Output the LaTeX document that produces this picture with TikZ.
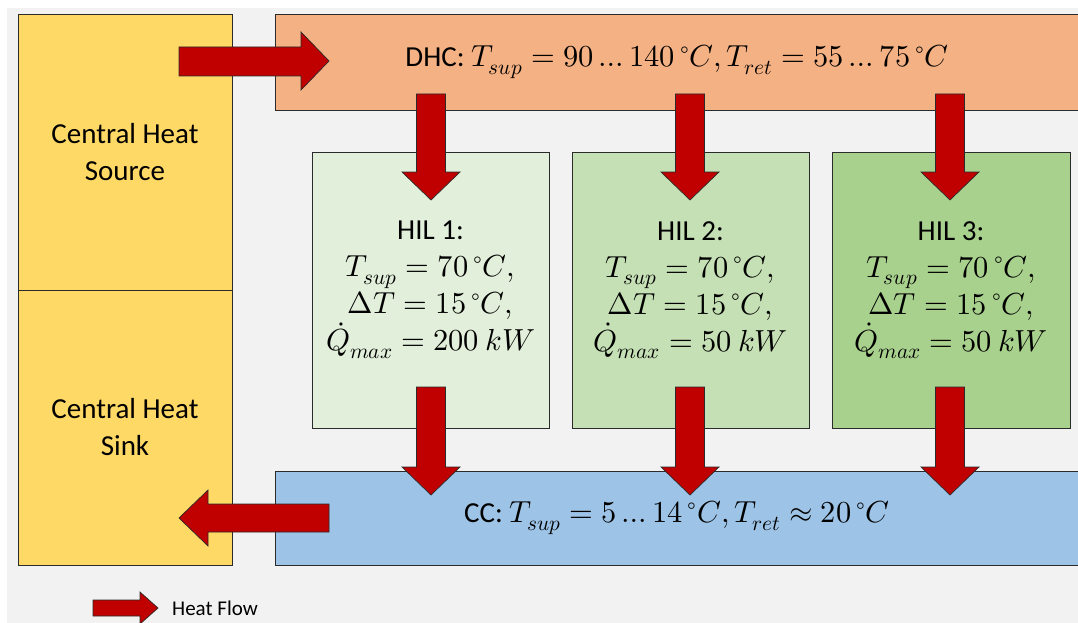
\documentclass[tikz,border=0pt]{standalone}
\usepackage{fontspec}
\usepackage{unicode-math}
\setmainfont{Carlito}
\setmathfont{Latin Modern Math}[Scale=1.05]
\definecolor{bgc}{HTML}{F2F2F2}
\definecolor{yellowc}{HTML}{FFD966}
\definecolor{orangec}{HTML}{F4B183}
\definecolor{hila}{HTML}{E2EFDA}
\definecolor{hilb}{HTML}{C5E0B4}
\definecolor{hilc}{HTML}{A9D18E}
\definecolor{bluec}{HTML}{9DC3E6}
\definecolor{heatred}{HTML}{C00000}
\definecolor{edgec}{HTML}{2B2B2B}
\tikzset{
  box/.style={draw=edgec, line width=0.9pt, inner sep=0pt, outer sep=0pt, anchor=north west, align=center, font=\fontsize{29}{37}\selectfont},
  heat/.style={fill=heatred, draw=edgec, line width=0.7pt, line join=miter},
}
\newcommand\hfdown[4]{% x, ytop, yhead, ytip
  \draw[heat] ({#1-14.5},#2) -- ({#1+14.5},#2) -- ({#1+14.5},#3) -- ({#1+29},#3) -- (#1,#4) -- ({#1-29},#3) -- ({#1-14.5},#3) -- cycle;}
\begin{document}
\begin{tikzpicture}[x=1pt,y=-1pt]
\useasboundingbox (0,0) rectangle (1078,623);
\fill[white] (0,0) rectangle (1078,623);
\fill[bgc] (7,8) rectangle (1078,623);
% boxes
\node[box, fill=yellowc, minimum width=214pt, minimum height=276pt] (src) at (18,14) {Central Heat\\Source};
\node[box, fill=yellowc, minimum width=214pt, minimum height=275pt] (snk) at (18,290) {Central Heat\\Sink};
\node[box, fill=orangec, minimum width=804pt, minimum height=96pt] (dhc) at (275,14) {DHC: $T_{sup}=90\ldots140\,{}^{\circ}C,T_{ret}=55\ldots75\,{}^{\circ}C$};
\node[box, fill=bluec, minimum width=804pt, minimum height=94pt] (cc) at (275,471) {CC: $T_{sup}=5\ldots14\,{}^{\circ}C,T_{ret}\approx20\,{}^{\circ}C$};
\node[box, fill=hila, minimum width=237pt, minimum height=276pt] (h1) at (312,152) {HIL 1:\\$T_{sup}=70\,{}^{\circ}C,$\\$\Delta T=15\,{}^{\circ}C,$\\$\dot{Q}_{max}=200\ kW$};
\node[box, fill=hilb, minimum width=237pt, minimum height=276pt] (h2) at (572,152) {HIL 2:\\$T_{sup}=70\,{}^{\circ}C,$\\$\Delta T=15\,{}^{\circ}C,$\\$\dot{Q}_{max}=50\ kW$};
\node[box, fill=hilc, minimum width=238pt, minimum height=276pt] (h3) at (832,152) {HIL 3:\\$T_{sup}=70\,{}^{\circ}C,$\\$\Delta T=15\,{}^{\circ}C,$\\$\dot{Q}_{max}=50\ kW$};
% heat flow arrows
\draw[heat] (179,47) -- (301,47) -- (301,32) -- (329,61) -- (301,90) -- (301,76) -- (179,76) -- cycle;
\hfdown{431}{94}{172}{200}
\hfdown{690}{94}{172}{200}
\hfdown{950}{94}{172}{200}
\hfdown{431}{387}{467}{495}
\hfdown{690}{387}{467}{495}
\hfdown{950}{387}{467}{495}
\draw[heat] (329,504) -- (208,504) -- (208,490) -- (179,518) -- (208,546) -- (208,532) -- (329,532) -- cycle;
% legend
\draw[heat] (93,600) -- (140,600) -- (140,592) -- (158,608) -- (140,624) -- (140,616) -- (93,616) -- cycle;
\node[font=\fontsize{21}{25}\selectfont, anchor=west, inner sep=0pt] (leg) at (172,608) {Heat Flow};
\end{tikzpicture}
\end{document}
